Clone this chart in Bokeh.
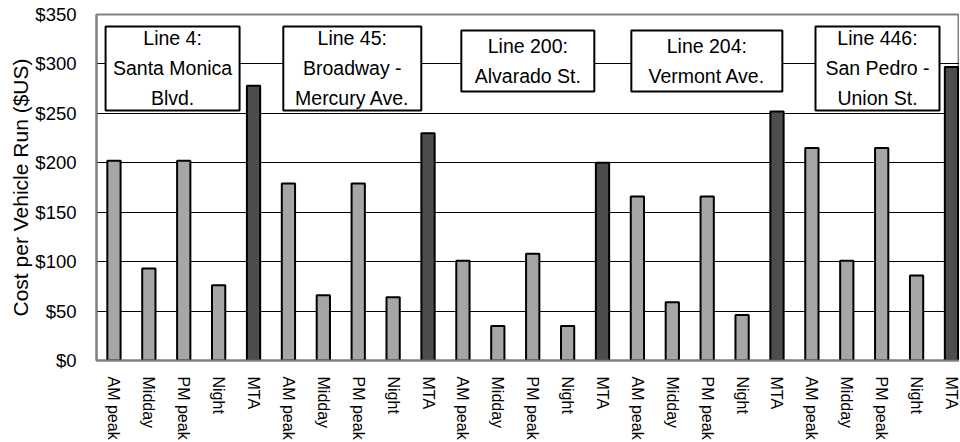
from bokeh.plotting import figure
from bokeh.models import FixedTicker, NumeralTickFormatter, ColumnDataSource, Range1d
from bokeh.core.properties import value
from bokeh.embed import file_html
from bokeh.resources import INLINE

# ---------------- data ----------------
periods = ["AM peak", "Midday", "PM peak", "Night", "MTA"]
line_labels = [
    "Line 4:\nSanta Monica\nBlvd.",
    "Line 45:\nBroadway -\nMercury Ave.",
    "Line 200:\nAlvarado St.",
    "Line 204:\nVermont Ave.",
    "Line 446:\nSan Pedro -\nUnion St.",
]
line4 = [202, 93, 202, 76, 278]
line45 = [179, 66, 179, 64, 230]
line200 = [101, 35, 108, 35, 200]
line204 = [166, 59, 166, 46, 252]
line446 = [215, 101, 215, 86, 297]
y_ticks = [0, 50, 100, 150, 200, 250, 300, 350]

series = [line4, line45, line200, line204, line446]

# ---------------- style / layout ----------------
FONT = "Liberation Sans"
LIGHT = "#a6a6a6"
DARK = "#4d4d4d"
n_per = len(periods)

xs, tops, colors, labels = [], [], [], {}
for g, vals in enumerate(series):
    for k, v in enumerate(vals):
        i = g * n_per + k
        xs.append(i)
        tops.append(v)
        colors.append(DARK if periods[k] == "MTA" else LIGHT)
        labels[i] = periods[k]

src = ColumnDataSource(dict(x=xs, top=tops, color=colors))

p = figure(
    output_backend="svg", toolbar_location=None,
    frame_width=863, frame_height=346,
    min_border_left=96, min_border_right=0, min_border_top=14, min_border_bottom=74,
    x_range=Range1d(-0.5, len(xs) - 0.77), y_range=Range1d(0, 350),
)
p.background_fill_color = "white"
p.border_fill_color = "white"
p.outline_line_color = "#808080"
p.outline_line_width = 2

# grid
p.xgrid.visible = False
p.ygrid.ticker = FixedTicker(ticks=y_ticks)
p.ygrid.grid_line_color = "black"
p.ygrid.grid_line_width = 1

# y axis
p.yaxis.ticker = FixedTicker(ticks=y_ticks)
p.yaxis.formatter = NumeralTickFormatter(format="$0")
p.yaxis.axis_label = "Cost per Vehicle Run ($US)"
p.yaxis.axis_label_text_font = FONT
p.yaxis.axis_label_text_font_style = "normal"
p.yaxis.axis_label_text_font_size = "21px"
p.yaxis.axis_label_text_color = "black"
p.yaxis.axis_label_standoff = 0
p.yaxis.major_label_text_font = FONT
p.yaxis.major_label_text_font_size = "18.5px"
p.yaxis.major_label_text_color = "black"
p.yaxis.major_label_standoff = 14
p.yaxis.major_tick_line_color = None
p.yaxis.minor_tick_line_color = None
p.yaxis.axis_line_color = "#808080"
p.yaxis.axis_line_width = 2

# x axis
p.xaxis.ticker = FixedTicker(ticks=xs)
p.xaxis.major_label_overrides = labels
p.xaxis.major_label_orientation = "vertical"
p.xaxis.major_label_text_font = FONT
p.xaxis.major_label_text_font_size = "16px"
p.xaxis.major_label_text_color = "black"
p.xaxis.major_label_standoff = 10
p.xaxis.major_tick_line_color = None
p.xaxis.minor_tick_line_color = None
p.xaxis.axis_line_color = "#808080"
p.xaxis.axis_line_width = 2

# bars
p.vbar(x="x", top="top", width=0.38, source=src, fill_color="color",
       line_color="black", line_width=2)

# label boxes (one per line group)
box_dx = [-0.32, -0.17, -0.14, -0.01, -0.12]
box_w = [134, 138, 133, 151, 124]
bx, by, bw, bh = [], [], [], []
for g, lab in enumerate(line_labels):
    nlines = lab.count("\n") + 1
    bx.append(g * n_per + (n_per - 1) / 2 + box_dx[g])
    by.append(295.5 if nlines == 3 else 303)
    bw.append(box_w[g])
    bh.append(84 if nlines == 3 else 61)
bsrc = ColumnDataSource(dict(x=bx, y=by, w=bw, h=bh, text=line_labels))
p.rect(x="x", y="y", width="w", height="h", width_units="screen", height_units="screen",
       source=bsrc, fill_color="white", line_color="black", line_width=2)
p.text(x="x", y="y", text="text", source=bsrc, text_align="center", text_baseline="middle",
       text_font=value(FONT), text_font_size="19.5px", text_color="black",
       text_line_height=1.36)

open("out.html", "w").write(file_html(p, INLINE))
